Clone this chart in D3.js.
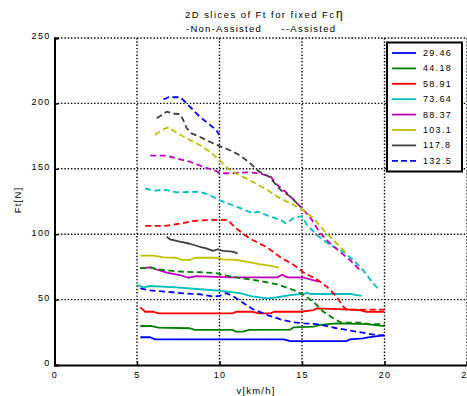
<!DOCTYPE html>
<html>
<head>
<meta charset="utf-8">
<script src="https://cdn.jsdelivr.net/npm/d3@7"></script>
<style>
  html, body { margin: 0; padding: 0; background: #fff; }
  svg { display: block; font-family: "Liberation Sans", Arial, sans-serif; }
  text { white-space: pre; }
</style>
</head>
<body>
<svg id="chart" width="467" height="396"></svg>
<script>
// Fcη levels shown in the legend
const fcLevels = [29.46, 44.18, 58.91, 73.64, 88.37, 103.1, 117.8, 132.5];

// Axis ticks
const xTicks = [0, 5, 10, 15, 20, 25];
const yTicks = [0, 50, 100, 150, 200, 250];

// Non-assisted curves: [v (km/h), Ft (N)]
const nonAssisted_29_46 = [[5.2,21.2],[5.8,21.2],[6.1,19.6],[13.9,19.6],[14.3,18.3],[17.7,18.3],[17.9,19.6],[18.7,20.4],[19.0,21.2],[19.7,22.2],[20.0,22.9]];
const nonAssisted_44_18 = [[5.2,29.8],[5.9,29.8],[6.3,28.5],[8.2,28.1],[8.5,26.8],[10.8,26.8],[11.0,25.5],[11.4,25.5],[11.8,26.8],[14.3,27.1],[14.5,28.8],[15.7,29.3],[16.1,30.6],[17.1,31.9],[18.9,31.3],[20.0,29.8]];
const nonAssisted_58_91 = [[5.2,44.1],[5.5,40.7],[6.0,40.7],[6.3,39.5],[10.8,39.5],[11.0,40.7],[12.0,40.7],[12.4,39.5],[13.1,39.5],[13.3,40.7],[14.9,40.7],[15.7,42],[15.9,43.3],[17.5,42.6],[18.5,42],[18.9,40.7],[20.0,40.7]];
const nonAssisted_73_64 = [[5.0,61.2],[5.4,59.4],[5.8,60.4],[7.4,59.4],[8.8,57.9],[10.0,56.8],[11.2,55],[12.0,52.5],[12.9,51],[13.5,51.8],[14.3,53.5],[15.1,54.3],[15.3,55.3],[15.5,54.3],[17.9,54.3],[18.6,52.8]];
const nonAssisted_88_37 = [[5.2,73.9],[5.8,74.7],[6.1,73.4],[6.8,70.7],[7.6,68.8],[8.1,66.7],[8.6,68],[9.4,67.5],[10.8,67],[13.5,67],[13.8,69],[14.1,67],[15.1,66.9],[15.6,65],[16.0,63.7]];
const nonAssisted_103_1 = [[5.2,83.6],[6.0,83.6],[6.6,82.3],[7.4,82],[7.7,80.3],[8.2,80.3],[8.5,82],[9.8,82],[10.2,80.8],[11.0,80.3],[11.8,78.7],[12.4,77.2],[13.1,75.7],[13.6,74.5]];
const nonAssisted_117_8 = [[6.8,98.1],[7.0,96.1],[7.6,94.3],[8.2,92.7],[8.8,90.4],[9.2,89.2],[9.6,87.2],[9.9,88.5],[10.2,87.2],[10.8,86.6],[11.1,85.4]];

// Assisted curves: [v (km/h), Ft (N)]
const assisted_29_46 = [[5.2,58.6],[5.8,57],[6.8,56],[7.8,54.8],[8.8,54.1],[9.6,52.4],[10.0,52.8],[10.4,55],[10.8,52.8],[11.4,47.8],[12.0,42.8],[12.9,38.2],[13.7,34.9],[14.5,32.6],[15.1,31.9],[15.9,31.3],[17.1,28.1],[18.3,25.5],[19.5,22.9],[20.0,22.4]];
const assisted_44_18 = [[5.2,73.9],[5.8,74.7],[6.2,73.2],[7.0,72.1],[7.8,71.3],[8.8,70.9],[9.8,70.3],[10.2,68.8],[11.0,67],[12.2,64.8],[13.5,61.7],[14.5,57.3],[15.1,53.5],[15.7,48.2],[16.3,40.7],[16.9,35.7],[17.4,32.3],[18.5,32.3],[19.1,31.3],[20.0,31.3]];
const assisted_58_91 = [[5.5,106.3],[6.7,106.3],[7.7,108.3],[8.4,110.1],[9.4,110.9],[10.5,110.9],[11.0,104.5],[11.8,96.9],[12.9,89.8],[13.7,82.2],[14.5,76.5],[15.1,70.7],[15.9,65.4],[16.5,59.9],[17.1,52.2],[17.5,44.6],[17.7,42.4],[20.0,42.4]];
const assisted_73_64 = [[5.5,135.1],[6.0,133.3],[6.7,133.8],[7.4,132],[8.8,132.5],[9.4,130],[10.0,126.1],[10.6,123.1],[11.3,119.8],[12.0,116],[12.3,117.2],[13.1,113.4],[13.7,110.9],[14.0,108.3],[14.5,112.2],[15.0,113.9],[15.3,107],[15.9,99.4],[16.7,91.7],[17.5,86.6],[18.1,80.3],[18.7,72.6],[19.3,62.5],[19.6,58.6]];
const assisted_88_37 = [[5.8,160],[6.8,160],[7.4,158],[8.2,155.4],[9.0,151.6],[9.8,148.3],[10.0,146.6],[10.8,146.6],[11.8,147.3],[12.4,146.6],[13.1,144],[13.5,137.6],[14.1,131.3],[14.6,124.8],[15.1,118.5],[15.6,110.9],[16.1,100.7],[16.7,93],[17.3,86.6],[17.9,80.3],[18.5,72.6]];
const assisted_103_1 = [[6.1,175.8],[6.5,179.7],[6.9,181.7],[7.3,178.4],[8.0,173.3],[8.8,168.2],[9.4,163.1],[10.0,156.7],[10.6,149.1],[11.2,145.3],[12.0,140.1],[13.0,133],[13.5,128.7],[14.3,123.6],[15.0,119],[15.7,112.2],[16.3,103.2],[16.9,95.6],[17.7,85.4]];
const assisted_117_8 = [[6.2,188.6],[6.8,193.7],[7.2,192.1],[7.6,191.9],[7.8,187.3],[8.0,181.4],[8.3,177.1],[8.8,174.5],[9.4,170.7],[10.0,167.4],[10.6,164.4],[11.2,160.6],[11.8,155],[12.4,147.8],[13.0,144],[13.7,133.8],[14.3,128.7],[14.9,121]];
const assisted_132_5 = [[6.6,203],[6.9,204.7],[7.6,204.7],[7.8,202.6],[8.3,196.3],[8.8,189.8],[9.3,184.8],[9.8,179.7],[10.0,175.8]];

// MATLAB default colour order
const colorOrder = ["#0000ff", "#008000", "#ff0000", "#00bfbf", "#bf00bf", "#bfbf00", "#404040"];

const nonAssisted = [nonAssisted_29_46, nonAssisted_44_18, nonAssisted_58_91, nonAssisted_73_64,
                     nonAssisted_88_37, nonAssisted_103_1, nonAssisted_117_8];
const assisted = [assisted_29_46, assisted_44_18, assisted_58_91, assisted_73_64,
                  assisted_88_37, assisted_103_1, assisted_117_8, assisted_132_5];

// Plot order: solid curves first, then dashed ones; colours cycle
const lines = [];
nonAssisted.forEach((d, i) => lines.push({ data: d, color: colorOrder[i % 7], dashed: false }));
assisted.forEach((d, i) => lines.push({ data: d, color: colorOrder[i % 7], dashed: true }));

const svg = d3.select("#chart");
const plotLeft = 54.5, plotRight = 467, plotTop = 38, plotBottom = 365;

const x = d3.scaleLinear().domain([0, 25]).range([plotLeft, plotRight]);
const y = d3.scaleLinear().domain([0, 250]).range([plotBottom, plotTop]);

// Dotted grid
const grid = svg.append("g");
grid.selectAll("line.gx").data(xTicks.filter(t => t > 0)).join("line")
  .attr("x1", d => x(d)).attr("x2", d => x(d))
  .attr("y1", plotTop).attr("y2", plotBottom)
  .attr("stroke", "#000").attr("stroke-width", 1.4).attr("stroke-dasharray", "1.4,1.9");
grid.selectAll("line.gy").data(yTicks.filter(t => t > 0)).join("line")
  .attr("x1", plotLeft).attr("x2", plotRight)
  .attr("y1", d => y(d)).attr("y2", d => y(d))
  .attr("stroke", "#000").attr("stroke-width", 1.4).attr("stroke-dasharray", "1.4,1.9");

// Curves
svg.append("clipPath").attr("id", "plotClip").append("rect")
  .attr("x", plotLeft).attr("y", plotTop).attr("width", plotRight - plotLeft).attr("height", plotBottom - plotTop);

const lineGen = d3.line().x(d => x(d[0])).y(d => y(d[1]));
svg.append("g").attr("clip-path", "url(#plotClip)")
  .selectAll("path").data(lines).join("path")
  .attr("d", d => lineGen(d.data))
  .attr("fill", "none")
  .attr("stroke", d => d.color)
  .attr("stroke-width", 1.8)
  .attr("stroke-linejoin", "round")
  .attr("stroke-dasharray", d => d.dashed ? "6,3.5" : null);

// Axes
const xAxis = svg.append("g").attr("transform", `translate(0,${plotBottom})`)
  .call(d3.axisBottom(x).tickValues(xTicks).tickSize(-4).tickPadding(10).tickFormat(d3.format("d")));
const yAxis = svg.append("g").attr("transform", `translate(${plotLeft},0)`)
  .call(d3.axisLeft(y).tickValues(yTicks).tickSize(-4).tickPadding(4).tickFormat(d3.format("d")));
[xAxis, yAxis].forEach(g => {
  g.select(".domain").attr("stroke", "#000").attr("stroke-width", 2);
  g.selectAll(".tick line").attr("stroke", "#000").attr("stroke-width", 1.5);
  g.selectAll(".tick text").attr("fill", "#000").style("font-size", "9px")
    .style("letter-spacing", "1.3px").style("font-family", "'Liberation Sans', Arial, sans-serif");
});
yAxis.selectAll(".tick text").attr("dy", "0.1em");
xAxis.selectAll(".tick text").attr("dy", "0.3em");

// Title
svg.append("text").attr("x", 185).attr("y", 18)
  .attr("textLength", 149).attr("lengthAdjust", "spacing")
  .style("font-size", "9.5px").attr("fill", "#000")
  .text("2D slices of Ft for fixed Fc");
svg.append("text").attr("x", 336).attr("y", 18)
  .style("font-size", "12px").attr("fill", "#000").text("η");
svg.append("text").attr("x", 186).attr("y", 31.5)
  .attr("textLength", 149).attr("lengthAdjust", "spacing")
  .style("font-size", "9.5px").attr("fill", "#000")
  .text("-Non-Assisted     --Assisted");

// Axis labels
svg.append("text").attr("x", 256).attr("y", 394).attr("text-anchor", "middle")
  .style("font-size", "9.5px").style("letter-spacing", "1.2px").attr("fill", "#000")
  .text("v[km/h]");
svg.append("text").attr("transform", "translate(21,200) rotate(-90)").attr("text-anchor", "middle")
  .style("font-size", "9.5px").style("letter-spacing", "1.2px").attr("fill", "#000")
  .text("Ft[N]");

// Legend
const legend = svg.append("g");
legend.append("rect").attr("x", 387).attr("y", 42.5).attr("width", 75).attr("height", 129)
  .attr("fill", "#fff").attr("stroke", "#000").attr("stroke-width", 2);
const legendRows = legend.selectAll("g.row").data(fcLevels).join("g")
  .attr("transform", (d, i) => `translate(0,${53 + i * 15.4})`);
legendRows.append("line").attr("x1", 392).attr("x2", 416).attr("y1", 0).attr("y2", 0)
  .attr("stroke", (d, i) => lines[i].color).attr("stroke-width", 1.8)
  .attr("stroke-dasharray", (d, i) => lines[i].dashed ? "6,3" : null);
legendRows.append("text").attr("x", 423).attr("y", 3)
  .style("font-size", "9px").style("letter-spacing", "1.3px").attr("fill", "#000")
  .text(d => d);
</script>
</body>
</html>
